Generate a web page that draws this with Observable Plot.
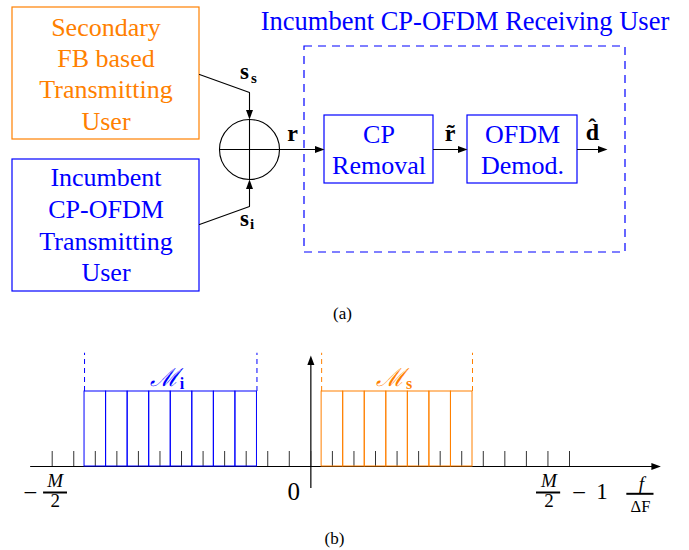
<!DOCTYPE html>
<html><head><meta charset="utf-8">
<script src="https://cdn.jsdelivr.net/npm/d3@7"></script>
<script src="https://cdn.jsdelivr.net/npm/@observablehq/plot@0.6"></script>
<style>body{margin:0;background:#fff} svg{display:block} svg text{font-family:"Liberation Serif","DejaVu Serif",serif !important}</style>
</head><body><div id="chart"></div>
<script>
// ---------------- DATA ----------------
const secondaryUserLines = ["Secondary", "FB based", "Transmitting", "User"];
const incumbentUserLines = ["Incumbent", "CP-OFDM", "Transmitting", "User"];
const cpRemovalLines = ["CP", "Removal"];
const demodLines = ["OFDM", "Demod."];
const receiverTitle = ["Incumbent CP-OFDM Receiving User"];
const signalNames = ["s", "r", "r\u0303", "d\u0302"];
const signalSubscripts = ["s", "i"];
const subcarrierTicks = d3.range(-12, 13);          // f / ΔF tick positions
const incumbentSubcarriers = [-10, -9, -8, -7, -6, -5, -4, -3];
const secondarySubcarriers = [1, 2, 3, 4, 5, 6, 7];
const bandNames = ["\u2133", "\u2133"];
const bandSubscripts = ["i", "s"];
const axisLabels = ["0"];
const captions = ["(a)", "(b)"];

// ---------------- STYLE ----------------
const BLUE = "#0000ff", ORANGE = "#ff8000";
const SERIF = "'Liberation Serif', 'DejaVu Serif', serif";
const arrowHead = {draw(ctx) { ctx.moveTo(0, 0); ctx.lineTo(-3.5, 9.5); ctx.lineTo(3.5, 9.5); ctx.closePath(); }};

// ---------------- (a) BLOCK DIAGRAM LAYOUT ----------------
const boxes = [
  {lines: secondaryUserLines, x1: 12, x2: 199, y1: 7, y2: 139, color: ORANGE, base: 35, step: 31.4},
  {lines: incumbentUserLines, x1: 12, x2: 199, y1: 159, y2: 291, color: BLUE, base: 185.5, step: 31.8},
  {lines: cpRemovalLines, x1: 324, x2: 433, y1: 115, y2: 183, color: BLUE, base: 142, step: 31},
  {lines: demodLines, x1: 467, x2: 577, y1: 115, y2: 183, color: BLUE, base: 142, step: 31}
];
const boxText = boxes.flatMap(b => b.lines.map((t, i) => ({t, x: (b.x1 + b.x2) / 2, y: b.base + i * b.step, color: b.color})));
const summer = {x: 249, y: 149, r: 30};
const wires = [
  {id: "ss", pts: [[199, 74], [249, 92], [249, 112]]},
  {id: "si", pts: [[199, 224], [249, 206], [249, 186]]},
  {id: "r", pts: [[279, 149], [317, 149]]},
  {id: "rt", pts: [[433, 149], [460, 149]]},
  {id: "dh", pts: [[577, 149], [600, 149]]}
].flatMap(w => w.pts.map(([x, y]) => ({id: w.id, x, y})));
const heads = [
  {x: 249, y: 119, rot: 180}, {x: 249, y: 179, rot: 0},
  {x: 324, y: 149, rot: 90}, {x: 467, y: 149, rot: 90}, {x: 607, y: 149, rot: 90}
];

const topPlot = Plot.plot({
  width: 689, height: 330, margin: 0,
  x: {domain: [0, 689], range: [0, 689], axis: null},
  y: {domain: [0, 330], range: [0, 330], axis: null},
  style: {background: "white", overflow: "visible", fontFamily: SERIF},
  marks: [
    Plot.rect([{x1: 304, x2: 625, y1: 46, y2: 252}], {x1: "x1", x2: "x2", y1: "y1", y2: "y2", fill: "none", stroke: BLUE, strokeWidth: 1.2, strokeDasharray: "8,6"}),
    Plot.rect(boxes, {x1: "x1", x2: "x2", y1: "y1", y2: "y2", fill: "none", stroke: "color", strokeWidth: 1.2}),
    Plot.text(boxText, {x: "x", y: "y", text: "t", fill: "color", fontSize: 26, fontFamily: SERIF, textAnchor: "middle", lineAnchor: "bottom"}),
    Plot.text(receiverTitle, {x: 464.5, y: 29, text: d => d, fill: BLUE, fontSize: 26.5, fontFamily: SERIF, textAnchor: "middle", lineAnchor: "bottom"}),
    Plot.line(wires, {x: "x", y: "y", z: "id", stroke: "black", strokeWidth: 1.1}),
    Plot.dot([summer], {x: "x", y: "y", r: summer.r, fill: "white", stroke: "black", strokeWidth: 1.1}),
    Plot.link([{x1: summer.x - summer.r, x2: summer.x + summer.r, y1: summer.y, y2: summer.y}, {x1: summer.x, x2: summer.x, y1: summer.y - summer.r, y2: summer.y + summer.r}],
      {x1: "x1", x2: "x2", y1: "y1", y2: "y2", stroke: "black", strokeWidth: 1.1}),
    Plot.dot(heads, {x: "x", y: "y", rotate: "rot", symbol: arrowHead, fill: "black", stroke: "none"}),
    // signal labels
    Plot.text([signalNames[0], signalNames[0]], {x: 244, y: (d, i) => [78, 225][i], text: d => d, fontSize: 23, fontWeight: "bold", fontFamily: SERIF, textAnchor: "middle", lineAnchor: "bottom"}),
    Plot.text(signalSubscripts, {x: (d, i) => [253.5, 251.5][i], y: (d, i) => [82, 228][i], text: d => d, fontSize: 15, fontWeight: "bold", fontFamily: SERIF, textAnchor: "middle", lineAnchor: "bottom"}),
    Plot.text(signalNames.slice(1), {x: (d, i) => [292, 449.5, 592][i], y: (d, i) => [140, 140, 139][i], text: d => d, fontSize: 24, fontWeight: "bold", fontFamily: SERIF, textAnchor: "middle", lineAnchor: "bottom"}),
    Plot.text([captions[0]], {x: 342, y: 318, text: d => d, fontSize: 17, fontFamily: SERIF, textAnchor: "middle", lineAnchor: "bottom"})
  ]
});

// ---------------- (b) SUBCARRIER ALLOCATION ----------------
const edges = arr => [d3.min(arr) - 0.5, d3.max(arr) + 0.5];
const bottomPlot = Plot.plot({
  width: 689, height: 220, margin: 0,
  x: {domain: [-12, 12], range: [51.7, 569], axis: null},
  y: {domain: [0, 1], range: [136, 61], axis: null},
  style: {background: "white", overflow: "visible", fontFamily: SERIF},
  marks: [
    Plot.ruleY([0], {x1: -13, x2: 16, stroke: "black", strokeWidth: 1.2}),
    Plot.ruleX([0], {y1: -0.293, y2: 1.4, stroke: "black", strokeWidth: 1.2}),
    Plot.dot([{x: 16.24, y: 0, rot: 90}, {x: 0, y: 1.48, rot: 0}], {x: "x", y: "y", rotate: "rot", symbol: arrowHead, fill: "black", stroke: "none"}),
    Plot.ruleX(subcarrierTicks, {x: d => d, y1: 0, y2: 0.2, stroke: "#333", strokeWidth: 1}),
    Plot.rect(incumbentSubcarriers, {x1: k => k - 0.5, x2: k => k + 0.5, y1: 0, y2: 1, fill: "none", stroke: BLUE, strokeWidth: 1}),
    Plot.rect(secondarySubcarriers, {x1: k => k - 0.5, x2: k => k + 0.5, y1: 0, y2: 1, fill: "none", stroke: ORANGE, strokeWidth: 1}),
    Plot.ruleX(edges(incumbentSubcarriers), {x: d => d, y1: 1, y2: 1.51, stroke: BLUE, strokeDasharray: "5,4"}),
    Plot.ruleX(edges(secondarySubcarriers), {x: d => d, y1: 1, y2: 1.51, stroke: ORANGE, strokeDasharray: "5,4"}),
    // band labels
    Plot.text(bandNames, {x: (d, i) => d3.mean([incumbentSubcarriers, secondarySubcarriers][i]), y: 1, dx: 8, dy: -6, text: d => d, fill: (d, i) => [BLUE, ORANGE][i], fontSize: 25, fontStyle: "italic", fontFamily: SERIF, textAnchor: "end", lineAnchor: "bottom"}),
    Plot.text(bandSubscripts, {x: (d, i) => d3.mean([incumbentSubcarriers, secondarySubcarriers][i]), y: 1, dx: 9, dy: -3, text: d => d, fill: (d, i) => [BLUE, ORANGE][i], fontSize: 16, fontWeight: "bold", fontFamily: SERIF, textAnchor: "start", lineAnchor: "bottom"}),
    // axis labels
    Plot.text(axisLabels, {x: 0, y: 0, dx: -17, dy: 33, text: d => d, fontSize: 25, fontFamily: SERIF, textAnchor: "middle", lineAnchor: "bottom"}),
    // -M/2
    Plot.text(["\u2212"], {x: -12, y: 0, dx: -22, dy: 34, text: d => d, fontSize: 25, fontFamily: SERIF, textAnchor: "middle", lineAnchor: "bottom"}),
    Plot.text(["M"], {x: -12, y: 0, dx: 3, dy: 20.7, text: d => d, fontSize: 19, fontStyle: "italic", fontFamily: SERIF, textAnchor: "middle", lineAnchor: "bottom"}),
    Plot.ruleY([0], {x1: -12.40, x2: -11.29, dy: 26, stroke: "black", strokeWidth: 2}),
    Plot.text(["2"], {x: -12, y: 0, dx: 3, dy: 40.7, text: d => d, fontSize: 19, fontFamily: SERIF, textAnchor: "middle", lineAnchor: "bottom"}),
    // M/2 - 1
    Plot.text(["M"], {x: 11, y: 0, dx: 1, dy: 20.7, text: d => d, fontSize: 19, fontStyle: "italic", fontFamily: SERIF, textAnchor: "middle", lineAnchor: "bottom"}),
    Plot.ruleY([0], {x1: 10.47, x2: 11.59, dy: 26, stroke: "black", strokeWidth: 2}),
    Plot.text(["2"], {x: 11, y: 0, dx: 1, dy: 40.7, text: d => d, fontSize: 19, fontFamily: SERIF, textAnchor: "middle", lineAnchor: "bottom"}),
    Plot.text(["\u2212"], {x: 11, y: 0, dx: 31, dy: 34, text: d => d, fontSize: 25, fontFamily: SERIF, textAnchor: "middle", lineAnchor: "bottom"}),
    Plot.text(["1"], {x: 11, y: 0, dx: 54, dy: 32.5, text: d => d, fontSize: 23, fontFamily: SERIF, textAnchor: "middle", lineAnchor: "bottom"}),
    // f / ΔF
    Plot.text(["f"], {x: 12, y: 0, dx: 72, dy: 23, text: d => d, fontSize: 19, fontStyle: "italic", fontFamily: SERIF, textAnchor: "middle", lineAnchor: "bottom"}),
    Plot.ruleY([0], {x1: 14.66, x2: 15.92, dy: 27.3, stroke: "black", strokeWidth: 2}),
    Plot.text(["\u0394F"], {x: 12, y: 0, dx: 71, dy: 45, text: d => d, fontSize: 16.5, fontFamily: SERIF, textAnchor: "middle", lineAnchor: "bottom"}),
    Plot.text([captions[1]], {frameAnchor: "bottom", dx: -10.5, dy: -7, text: d => d, fontSize: 17, fontFamily: SERIF, textAnchor: "middle", lineAnchor: "bottom"})
  ]
});

document.getElementById("chart").append(topPlot, bottomPlot);
</script>
</body></html>
